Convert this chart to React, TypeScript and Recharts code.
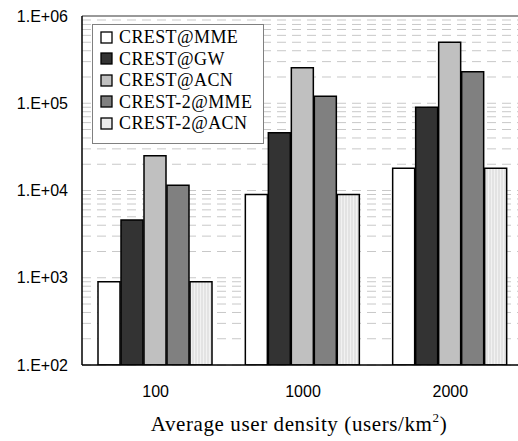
import React from 'react';
import {
  BarChart,
  Bar,
  XAxis,
  YAxis,
  CartesianGrid,
  ReferenceLine,
} from 'recharts';

// densities on the x axis
const densities = ['100', '1000', '2000'];

// signalling load per series (log scale)
const crestMme = [900, 9000, 18000];
const crestGw = [4600, 46000, 90000];
const crestAcn = [25000, 255000, 500000];
const crest2Mme = [11500, 120000, 230000];
const crest2Acn = [900, 9000, 18000];

const yTicks = [100, 1000, 10000, 100000, 1000000];
// minor grid values 1..9 x 10^n
const gridValues = [100, 1000, 10000, 100000].flatMap((d) =>
  [1, 2, 3, 4, 5, 6, 7, 8, 9].map((m) => m * d)
);

const series = [
  { key: 'mme', name: 'CREST@MME', fill: '#ffffff' },
  { key: 'gw', name: 'CREST@GW', fill: '#333333' },
  { key: 'acn', name: 'CREST@ACN', fill: '#c0c0c0' },
  { key: 'c2mme', name: 'CREST-2@MME', fill: '#808080' },
  { key: 'c2acn', name: 'CREST-2@ACN', fill: 'url(#stripes)' },
];

const data = densities.map((name, i) => ({
  name,
  mme: crestMme[i],
  gw: crestGw[i],
  acn: crestAcn[i],
  c2mme: crest2Mme[i],
  c2acn: crest2Acn[i],
}));

const fmtTick = (v: number) => '1.E+' + String(Math.round(Math.log10(v))).padStart(2, '0');

const serif = '"Liberation Serif", "Times New Roman", serif';
const sans = '"Liberation Sans", Arial, sans-serif';

const LegendBox = () => (
  <div
    style={{
      position: 'absolute',
      left: 92,
      top: 24,
      border: '1.5px solid #808080',
      background: '#fff',
      width: 172,
      height: 120,
      padding: '2px 0 0 7px',
      boxSizing: 'border-box',
      fontFamily: serif,
      fontSize: 18,
      letterSpacing: 0.4,
      lineHeight: '21.5px',
      color: '#000',
    }}
  >
    {series.map((s) => (
      <div key={s.key} style={{ display: 'flex', alignItems: 'center', height: 21.5 }}>
        <svg width={14} height={14} style={{ marginRight: 5 }}>
          <rect x={1} y={1} width={11} height={11} fill={s.fill === 'url(#stripes)' ? '#ececec' : s.fill} stroke="#000" strokeWidth={1.3} />
        </svg>
        <span>{s.name}</span>
      </div>
    ))}
  </div>
);

const XTitle = (props: any) => {
  const { viewBox } = props;
  const cx = viewBox.x + viewBox.width / 2 - 4;
  return (
    <text x={cx} y={431} textAnchor="middle" fontFamily={serif} fontSize={21} letterSpacing={0.6} fill="#000">
      Average user density (users/km
      <tspan dy={-9} fontSize={13}>2</tspan>
      <tspan dy={9}>)</tspan>
    </text>
  );
};

export default function App() {
  return (
    <div style={{ position: 'absolute', left: 0, top: 0, width: 518, height: 441, overflow: 'hidden', background: '#fff' }}>
      <BarChart
        width={526}
        height={441}
        data={data}
        margin={{ top: 16, right: 2, left: 0, bottom: 0 }}
        barCategoryGap={16}
        barGap={1}
      >
        <defs>
          <pattern id="stripes" width={3} height={4} patternUnits="userSpaceOnUse">
            <rect width={3} height={4} fill="#f2f2f2" />
            <line x1={1} y1={0} x2={1} y2={4} stroke="#d4d4d4" strokeWidth={1} />
          </pattern>
        </defs>
        <CartesianGrid
          vertical={false}
          horizontalValues={gridValues}
          stroke="#c8c8c8"
          strokeDasharray="9 6"
        />
        <XAxis
          dataKey="name"
          height={76}
          tickLine={false}
          tickSize={6}
          tickMargin={15}
          axisLine={{ stroke: '#000', strokeWidth: 1.5 }}
          tick={{ fill: '#000', fontFamily: sans, fontSize: 16 }}
          label={<XTitle />}
        />
        <YAxis
          type="number"
          scale="log"
          domain={[100, 1000000]}
          ticks={yTicks}
          interval={0}
          allowDataOverflow
          width={82}
          tickLine={false}
          tickSize={6}
          tickMargin={8}
          tickFormatter={fmtTick}
          axisLine={{ stroke: '#000', strokeWidth: 1.5 }}
          tick={{ fill: '#000', fontFamily: sans, fontSize: 16 }}
        />
        <ReferenceLine y={1000000} stroke="#999999" strokeWidth={2} />
        {series.map((s) => (
          <Bar
            key={s.key}
            dataKey={s.key}
            name={s.name}
            fill={s.fill}
            stroke="#000"
            strokeWidth={1.5}
            isAnimationActive={false}
          />
        ))}
      </BarChart>
      <LegendBox />
    </div>
  );
}
